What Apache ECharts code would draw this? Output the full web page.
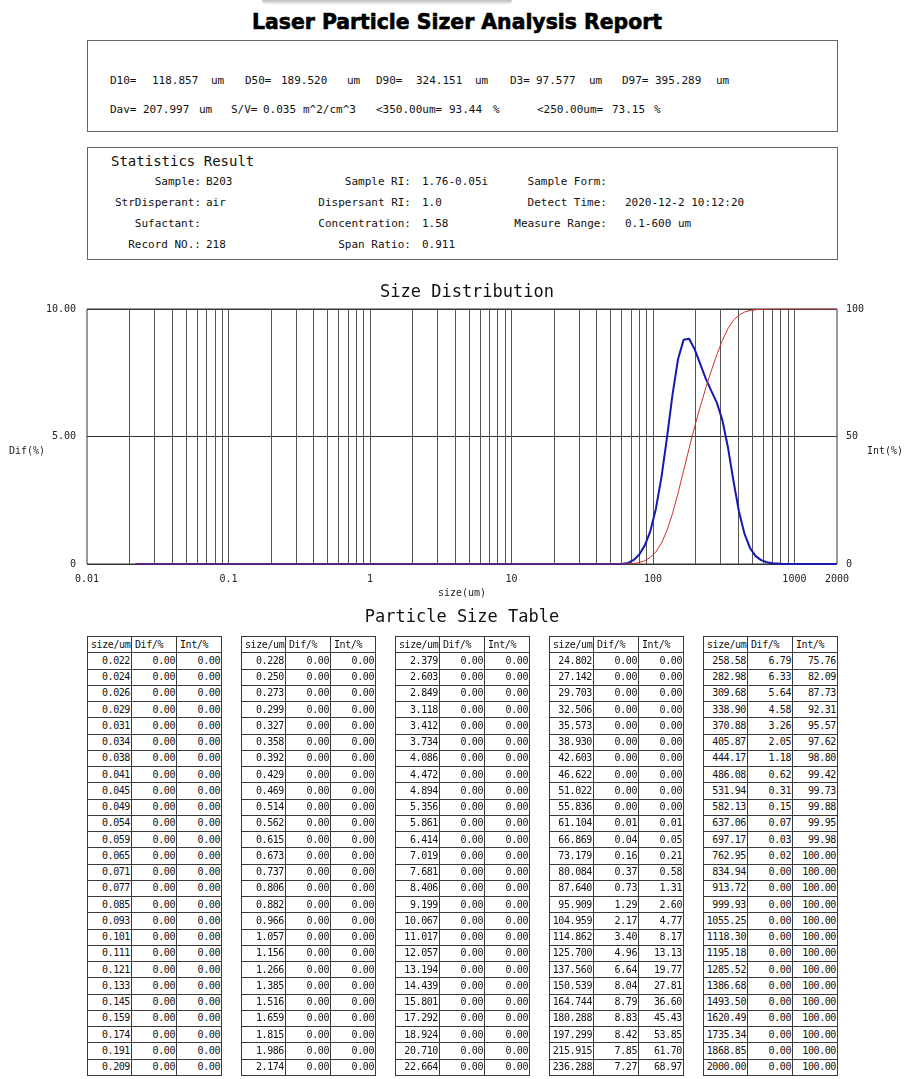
<!DOCTYPE html>
<html>
<head>
<meta charset="utf-8">
<title>Laser Particle Sizer Analysis Report</title>
<script src="https://cdn.jsdelivr.net/npm/echarts@6/dist/echarts.min.js"></script>
<style>
html, body { margin: 0; padding: 0; background: #fff; }
#page { position: relative; width: 906px; height: 1079px; overflow: hidden; font-family: "DejaVu Sans Mono", monospace; color: #111; }
.abs { position: absolute; white-space: pre; }
.box { position: absolute; border: 1px solid #666; box-sizing: border-box; }
.t11 { font-size: 11px; line-height: 14px; }
#topShade { position: absolute; left: 262px; top: 0; width: 250px; height: 5px; background: linear-gradient(to bottom, #bcbcbc, rgba(255,255,255,0)); border-radius: 0 0 8px 8px; }
#reportTitle { left: 252px; top: 10.7px; font-family: "Liberation Sans Narrow", "DejaVu Sans Condensed", sans-serif; font-weight: bold; font-size: 22px; line-height: 22px; color: #000; -webkit-text-stroke: 0.6px #000; transform-origin: 0 0; }
#echartsMain { position: absolute; left: 0; top: 270px; width: 906px; height: 340px; }
#tableTitle { left: 462px; top: 606px; font-size: 17px; line-height: 20px; transform: translateX(-50%); }
table.pst { position: absolute; border-collapse: collapse; table-layout: fixed; font-size: 10px; letter-spacing: -0.4px; color: #111; }
table.pst td { border: 1px solid #3a3a3a; padding: 0 1px 0 0; text-align: right; line-height: 10px; overflow: hidden; white-space: nowrap; }
table.pst tr.hd td { text-align: left; padding: 0 0 0 3px; }
</style>
</head>
<body>
<div id="page">
  <div id="topShade"></div>
  <div id="reportTitle" class="abs">Laser Particle Sizer Analysis Report</div>
  <div class="box" style="left:87px;top:40px;width:751px;height:92px"></div>
  <div class="box" style="left:87px;top:147px;width:751px;height:113px"></div>
  <div id="summary"></div>
  <div id="stats"></div>
  <div id="echartsMain"></div>
  <div id="tableTitle" class="abs">Particle Size Table</div>
  <div id="tables"></div>
</div>
<script>
// 粒径 size/um
var sizes = [
  0.022, 0.024, 0.026, 0.029, 0.031, 0.034, 0.038, 0.041, 0.045, 0.049, 0.054, 0.059, 0.065,
  0.071, 0.077, 0.085, 0.093, 0.101, 0.111, 0.121, 0.133, 0.145, 0.159, 0.174, 0.191, 0.209,
  0.228, 0.250, 0.273, 0.299, 0.327, 0.358, 0.392, 0.429, 0.469, 0.514, 0.562, 0.615, 0.673,
  0.737, 0.806, 0.882, 0.966, 1.057, 1.156, 1.266, 1.385, 1.516, 1.659, 1.815, 1.986, 2.174,
  2.379, 2.603, 2.849, 3.118, 3.412, 3.734, 4.086, 4.472, 4.894, 5.356, 5.861, 6.414, 7.019,
  7.681, 8.406, 9.199, 10.067, 11.017, 12.057, 13.194, 14.439, 15.801, 17.292, 18.924, 20.710, 22.664,
  24.802, 27.142, 29.703, 32.506, 35.573, 38.930, 42.603, 46.622, 51.022, 55.836, 61.104, 66.869, 73.179,
  80.084, 87.640, 95.909, 104.959, 114.862, 125.700, 137.560, 150.539, 164.744, 180.288, 197.299, 215.915, 236.288,
  258.58, 282.98, 309.68, 338.90, 370.88, 405.87, 444.17, 486.08, 531.94, 582.13, 637.06, 697.17, 762.95,
  834.94, 913.72, 999.93, 1055.25, 1118.30, 1195.18, 1285.52, 1386.68, 1493.50, 1620.49, 1735.34, 1868.85, 2000.00
];
// 微分分布 Dif/%
var difValues = [
  0, 0, 0, 0, 0, 0, 0, 0, 0, 0, 0, 0, 0, 0, 0, 0, 0, 0, 0, 0, 0, 0, 0, 0, 0, 0,
  0, 0, 0, 0, 0, 0, 0, 0, 0, 0, 0, 0, 0, 0, 0, 0, 0, 0, 0, 0, 0, 0, 0, 0, 0, 0,
  0, 0, 0, 0, 0, 0, 0, 0, 0, 0, 0, 0, 0, 0, 0, 0, 0, 0, 0, 0, 0, 0, 0, 0, 0, 0,
  0, 0, 0, 0, 0, 0, 0, 0, 0, 0, 0.01, 0.04, 0.16, 0.37, 0.73, 1.29, 2.17, 3.40, 4.96, 6.64, 8.04, 8.79, 8.83, 8.42, 7.85, 7.27,
  6.79, 6.33, 5.64, 4.58, 3.26, 2.05, 1.18, 0.62, 0.31, 0.15, 0.07, 0.03, 0.02, 0, 0, 0, 0, 0, 0, 0, 0, 0, 0, 0, 0, 0
];
// 累积分布 Int/%
var intValues = [
  0, 0, 0, 0, 0, 0, 0, 0, 0, 0, 0, 0, 0, 0, 0, 0, 0, 0, 0, 0, 0, 0, 0, 0, 0, 0,
  0, 0, 0, 0, 0, 0, 0, 0, 0, 0, 0, 0, 0, 0, 0, 0, 0, 0, 0, 0, 0, 0, 0, 0, 0, 0,
  0, 0, 0, 0, 0, 0, 0, 0, 0, 0, 0, 0, 0, 0, 0, 0, 0, 0, 0, 0, 0, 0, 0, 0, 0, 0,
  0, 0, 0, 0, 0, 0, 0, 0, 0, 0, 0.01, 0.05, 0.21, 0.58, 1.31, 2.60, 4.77, 8.17, 13.13, 19.77, 27.81, 36.60, 45.43, 53.85, 61.70, 68.97,
  75.76, 82.09, 87.73, 92.31, 95.57, 97.62, 98.80, 99.42, 99.73, 99.88, 99.95, 99.98, 100, 100, 100, 100, 100, 100, 100, 100, 100, 100, 100, 100, 100, 100
];
// 对数坐标竖网格线
var gridSizes = [
  0.02, 0.03, 0.04, 0.05, 0.06, 0.07, 0.08, 0.09, 0.1,
  0.2, 0.3, 0.4, 0.5, 0.6, 0.7, 0.8, 0.9, 1,
  2, 3, 4, 5, 6, 7, 8, 9, 10,
  20, 30, 40, 50, 60, 70, 80, 90, 100,
  200, 300, 400, 500, 600, 700, 800, 900, 1000
];
// 报告文字
var summaryLine1 = ['D10=', '118.857', 'um', 'D50=', '189.520', 'um', 'D90=', '324.151', 'um', 'D3=', '97.577', 'um', 'D97=', '395.289', 'um'];
var summaryLine2 = ['Dav=', '207.997', 'um', 'S/V=', '0.035', 'm^2/cm^3', '<350.00um=', '93.44', '%', '<250.00um=', '73.15', '%'];
var statRows = [
  ['Sample:', 'B203', 'Sample RI:', '1.76-0.05i', 'Sample Form:', ''],
  ['StrDisperant:', 'air', 'Dispersant RI:', '1.0', 'Detect Time:', '2020-12-2 10:12:20'],
  ['Sufactant:', '', 'Concentration:', '1.58', 'Measure Range:', '0.1-600 um'],
  ['Record NO.:', '218', 'Span Ratio:', '0.911', '', '']
];
var tableHeader = ['size/um', 'Dif/%', 'Int/%'];

// ---- 版面 ----
function addText(parent, txt, css) {
  var d = document.createElement('div');
  d.className = 'abs t11';
  d.textContent = txt;
  for (var k in css) d.style[k] = css[k];
  parent.appendChild(d);
  return d;
}

var rt = document.getElementById('reportTitle');
rt.style.transform = 'scaleX(' + (410 / rt.getBoundingClientRect().width) + ')';

var summary = document.getElementById('summary');
var line1X = [110, 152, 211, 245, 281, 347, 376, 416, 475, 510, 536, 589, 622, 655, 716];
var line2X = [110, 143, 199, 231, 263, 303, 376, 449, 493, 537, 612, 654];
summaryLine1.forEach(function (t, i) { addText(summary, t, { left: line1X[i] + 'px', top: '74px' }); });
summaryLine2.forEach(function (t, i) { addText(summary, t, { left: line2X[i] + 'px', top: '103px' }); });

var stats = document.getElementById('stats');
var st = addText(stats, 'Statistics Result', { left: '111px', top: '152px' });
st.style.fontSize = '14px'; st.style.lineHeight = '18px';
var labelRight = [201, 411, 607];
var valueLeft = [206, 422, 625];
statRows.forEach(function (row, r) {
  var top = (175 + r * 21) + 'px';
  for (var c = 0; c < 3; c++) {
    if (row[c * 2]) addText(stats, row[c * 2], { right: (906 - labelRight[c]) + 'px', top: top });
    if (row[c * 2 + 1]) addText(stats, row[c * 2 + 1], { left: valueLeft[c] + 'px', top: top });
  }
});

// 粒径表
var tables = document.getElementById('tables');
var rowsPerTable = 26;
for (var t = 0; t < 5; t++) {
  var html = '<colgroup><col style="width:44px"><col style="width:45px"><col style="width:45px"></colgroup>';
  html += '<tr class="hd"><td>' + tableHeader.join('</td><td>') + '</td></tr>';
  for (var r = 0; r < rowsPerTable; r++) {
    var i = t * rowsPerTable + r;
    html += '<tr><td>' + sizes[i].toFixed(t < 4 ? 3 : 2) + '</td><td>' + difValues[i].toFixed(2) +
      '</td><td>' + intValues[i].toFixed(2) + '</td></tr>';
  }
  var tb = document.createElement('table');
  tb.className = 'pst';
  tb.style.left = (87 + t * 154) + 'px';
  tb.style.top = '636px';
  tb.style.width = '135px';
  tb.style.height = '440px';
  tb.innerHTML = html;
  tables.appendChild(tb);
}

// ---- 图表 ----
var myChart = echarts.init(document.getElementById('echartsMain'));

var option = {
  animation: false,
  textStyle: { fontFamily: 'DejaVu Sans Mono' },
  title: {
    text: 'Size Distribution',
    left: 375,
    top: 9,
    textStyle: { fontFamily: 'DejaVu Sans Mono', fontSize: 17, fontWeight: 'normal', color: '#111' }
  },
  grid: {
    left: 87, right: 69, top: 39, bottom: 46,
    show: true, borderColor: '#333', borderWidth: 1,
    outerBoundsMode: 'none'
  },
  // 纵轴名称
  graphic: [{
    type: 'text', x: 27, y: 181, silent: true,
    style: { text: 'Dif(%)', font: '10px "DejaVu Sans Mono"', fill: '#222', align: 'center', verticalAlign: 'middle' }
  }, {
    type: 'text', x: 885, y: 181, silent: true,
    style: { text: 'Int(%)', font: '10px "DejaVu Sans Mono"', fill: '#222', align: 'center', verticalAlign: 'middle' }
  }],
  xAxis: {
    type: 'log',
    logBase: 10,
    min: 0.01,
    max: 2000,
    name: 'size(um)',
    nameLocation: 'middle',
    nameGap: 21,
    nameTextStyle: { fontFamily: 'DejaVu Sans Mono', fontSize: 10, color: '#222', align: 'center', verticalAlign: 'middle' },
    axisLine: { show: false },
    axisTick: { show: false },
    splitLine: { show: false },
    axisLabel: {
      fontFamily: 'DejaVu Sans Mono', fontSize: 10, color: '#222', margin: 10,
      formatter: function (v) { return String(parseFloat(v.toPrecision(4))); }
    }
  },
  yAxis: [{
    type: 'value',
    position: 'left',
    min: 0, max: 10, interval: 5,
    axisLine: { show: false },
    axisTick: { show: false },
    splitLine: { show: true, lineStyle: { color: '#333', width: 1 } },
    axisLabel: {
      fontFamily: 'DejaVu Sans Mono', fontSize: 10, color: '#222', margin: 11,
      formatter: function (v) { return v === 0 ? '0' : v.toFixed(2); }
    }
  }, {
    type: 'value',
    position: 'right',
    min: 0, max: 100, interval: 50,
    axisLine: { show: false },
    axisTick: { show: false },
    splitLine: { show: false },
    axisLabel: { fontFamily: 'DejaVu Sans Mono', fontSize: 10, color: '#222', margin: 9 }
  }],
  series: [{
    name: 'Dif(%)',
    type: 'line',
    yAxisIndex: 0,
    z: 3,
    symbol: 'none',
    lineStyle: { color: '#1818b0', width: 2 },
    itemStyle: { color: '#1818b0' },
    data: sizes.map(function (s, i) { return [s, difValues[i]]; }),
    markLine: {
      z: 1,
      silent: true,
      symbol: ['none', 'none'],
      label: { show: false },
      lineStyle: { color: '#555', width: 1, type: 'solid' },
      emphasis: { disabled: true },
      data: gridSizes.map(function (v) { return { xAxis: v }; })
    }
  }, {
    name: 'Int(%)',
    type: 'line',
    yAxisIndex: 1,
    z: 4,
    symbol: 'none',
    lineStyle: { color: '#d03030', width: 1 },
    itemStyle: { color: '#d03030' },
    data: sizes.map(function (s, i) { return [s, intValues[i]]; })
  }]
};

myChart.setOption(option);
</script>
</body>
</html>
